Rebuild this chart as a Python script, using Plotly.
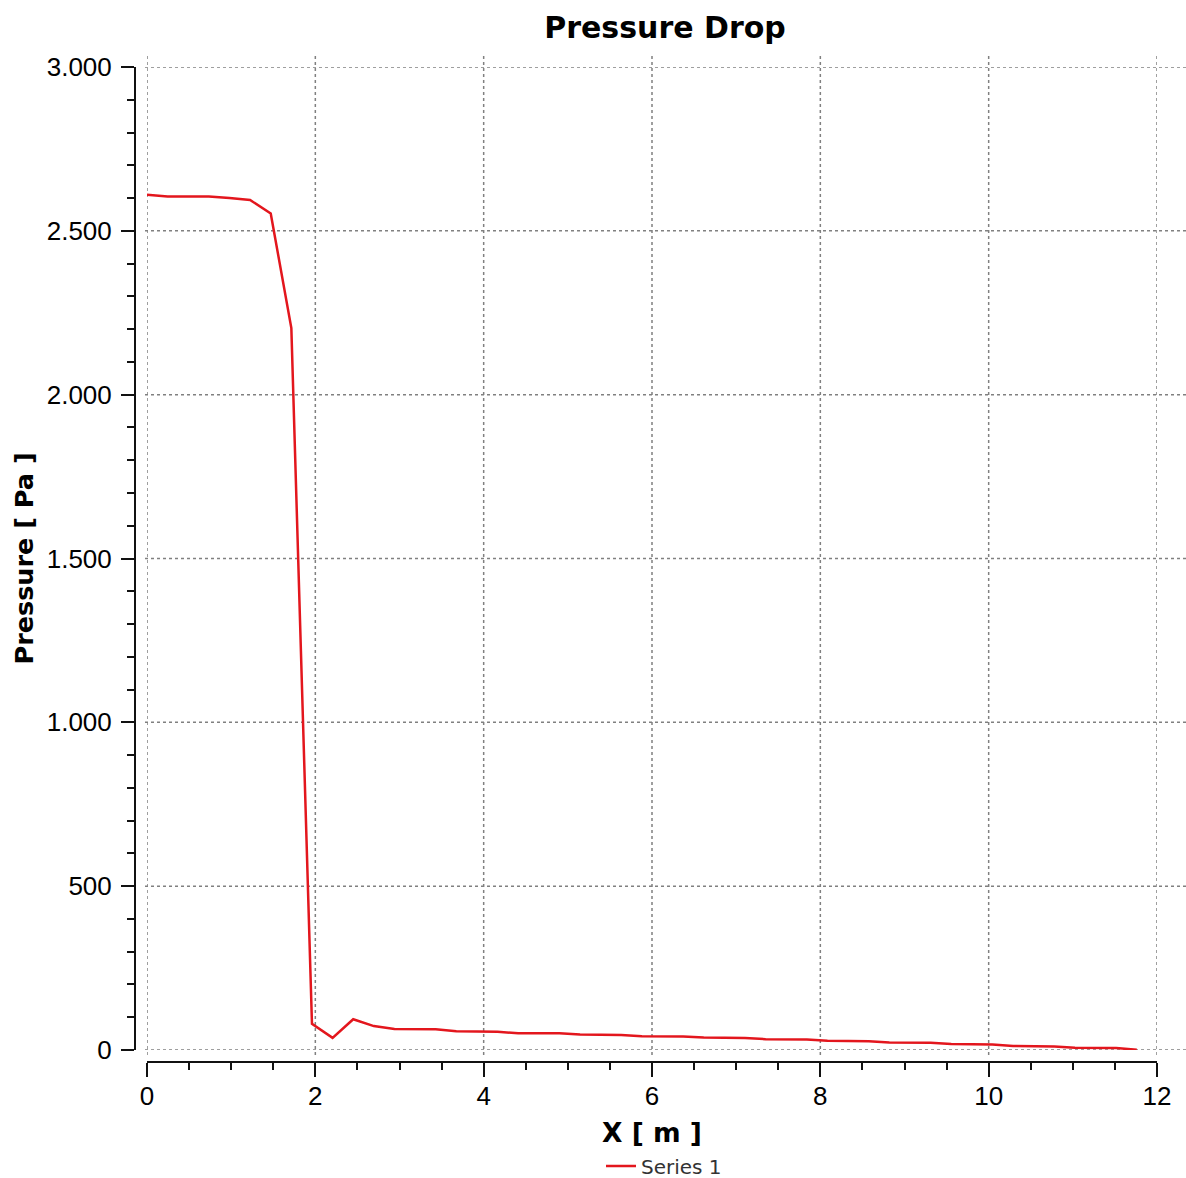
import plotly.graph_objects as go

x_m = [0.000, 0.245, 0.490, 0.735, 0.980, 1.225, 1.470, 1.715, 1.960, 2.205,
       2.450, 2.695, 2.940, 3.185, 3.430, 3.675, 3.920, 4.165, 4.410, 4.655,
       4.900, 5.145, 5.390, 5.635, 5.880, 6.125, 6.370, 6.615, 6.860, 7.105,
       7.350, 7.595, 7.840, 8.085, 8.330, 8.575, 8.820, 9.065, 9.310, 9.555,
       9.800, 10.045, 10.290, 10.535, 10.780, 11.025, 11.270, 11.515, 11.760]
pressure_pa = [2610, 2605, 2605, 2605, 2600, 2594, 2553, 2203, 80, 37,
               94, 73, 64, 64, 63, 57, 57, 56, 51, 51,
               51, 47, 47, 46, 42, 42, 41, 38, 38, 37,
               33, 33, 32, 28, 28, 27, 23, 23, 22, 18,
               18, 17, 12, 12, 11, 7, 7, 6, 1]

x_ticks = [0, 2, 4, 6, 8, 10, 12]
y_ticks = [0, 500, 1000, 1500, 2000, 2500, 3000]

series_name = "Series 1"
title_text = "Pressure Drop"
x_title = "X [ m ]"
y_title = "Pressure [ Pa ]"

W, H = 1186, 1178
ml, mr, mt, mb = 135, 29, 67, 116
pw = W - ml - mr
ph = H - mt - mb
gap = 12

bold_font = "DejaVu Sans"
tick_font = "Liberation Sans"
axis_color = "#111111"
grid_color = "#808080"

fig = go.Figure()
fig.add_trace(go.Scatter(
    x=x_m, y=pressure_pa, mode="lines", name=series_name,
    line=dict(color="#e3161d", width=2.5),
))

# dotted grid lines (extending slightly past the plot area as in the original)
shapes = []
for yv in y_ticks:
    shapes.append(dict(type="line", xref="paper", yref="y",
                       x0=(145 - ml) / pw, x1=(W - ml) / pw, y0=yv, y1=yv,
                       line=dict(color=grid_color, width=1.5, dash="dot"), layer="below"))
for xv in x_ticks:
    shapes.append(dict(type="line", xref="x", yref="paper",
                       x0=xv, x1=xv, y0=(H - mb - 1055) / ph, y1=(H - mb - 53) / ph,
                       line=dict(color=grid_color, width=1.5, dash="dot"), layer="below"))

fig.update_layout(
    width=W, height=H,
    margin=dict(l=ml, r=mr, t=mt, b=mb, autoexpand=False),
    paper_bgcolor="white", plot_bgcolor="white",
    separators=",.",
    font=dict(family=bold_font, color="#111111"),
    shapes=shapes,
    title=dict(text="<b>" + title_text + "</b>", x=(665 - ml) / pw, xref="paper",
               xanchor="center", y=1 - 27 / H, yref="container", yanchor="middle",
               font=dict(size=30, family=bold_font, color="#000000")),
    showlegend=True,
    legend=dict(orientation="h", x=(664 - ml) / pw, xanchor="center",
                y=-(1166 - (H - mb)) / ph,
                yanchor="middle", font=dict(size=20, color="#333333", family=bold_font),
                bgcolor="rgba(0,0,0,0)"),
    xaxis=dict(
        domain=[gap / pw, 1], range=[0, 12], anchor="free", position=0,
        showline=True, linecolor=axis_color, linewidth=2,
        ticks="outside", ticklen=14, tickwidth=2, tickcolor=axis_color,
        tickvals=x_ticks, ticklabelstandoff=-3,
        tickfont=dict(size=26, family=tick_font, color="#000000"),
        minor=dict(dtick=0.5, ticks="outside", ticklen=7, tickwidth=1.5,
                   tickcolor=axis_color, showgrid=False),
        showgrid=False, zeroline=False,
        title=dict(text="<b>" + x_title + "</b>", standoff=12,
                   font=dict(size=26.5, family=bold_font, color="#000000")),
        automargin=False,
    ),
    yaxis=dict(
        domain=[gap / ph, 1], range=[0, 3000], anchor="free", position=0,
        showline=True, linecolor=axis_color, linewidth=2,
        ticks="outside", ticklen=13, tickwidth=2, tickcolor=axis_color,
        tickvals=y_ticks, tickformat=",d", ticklabelstandoff=4,
        tickfont=dict(size=26, family=tick_font, color="#000000"),
        minor=dict(dtick=100, ticks="outside", ticklen=7, tickwidth=1.5,
                   tickcolor=axis_color, showgrid=False),
        showgrid=False, zeroline=False,
        title=dict(text="<b>" + y_title + "</b>", standoff=5,
                   font=dict(size=25.5, family=bold_font, color="#000000")),
        automargin=False,
    ),
)

fig.write_html("out.html")
